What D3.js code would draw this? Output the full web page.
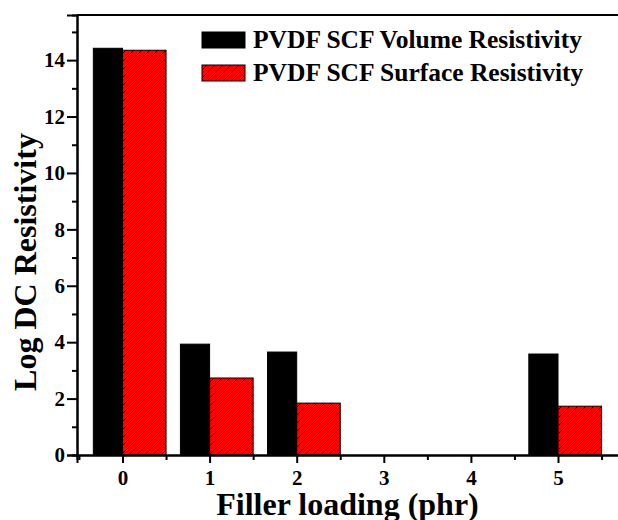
<!DOCTYPE html>
<html>
<head>
<meta charset="utf-8">
<script src="https://cdn.jsdelivr.net/npm/d3@7"></script>
<style>
  html, body { margin: 0; padding: 0; background: #fff; }
  svg { display: block; }
  svg text { font-family: "Liberation Serif", "Times New Roman", serif; font-weight: bold; fill: #000; }
  .tick text { font-size: 21px; }
</style>
</head>
<body>
<svg id="chart" width="618" height="520"></svg>
<script>
// Filler loading (phr) categories and log DC resistivity values
const categories = [0, 1, 2, 3, 4, 5];
const volumeResistivity = [14.42, 3.93, 3.65, null, null, 3.58];
const surfaceResistivity = [14.35, 2.73, 1.84, null, null, 1.73];
const yMajorTicks = [0, 2, 4, 6, 8, 10, 12, 14];
const yMinorTicks = [1, 3, 5, 7, 9, 11, 13, 15];
const xMinorTicks = [-0.5, 0.5, 1.5, 2.5, 3.5, 4.5, 5.5];
const seriesNames = ["PVDF SCF Volume Resistivity", "PVDF SCF Surface Resistivity"];

const svg = d3.select("#chart");
const plotLeft = 77, plotRight = 640, plotTop = 15, plotBottom = 455;

const x = d3.scaleLinear().domain([0, 5]).range([122.5, 558]);
const y = d3.scaleLinear().domain([0, 15.6]).range([plotBottom, plotTop]);
const step = x(1) - x(0);
const volW = step * 0.335;   // visible part of the volume bar
const surfW = step * 0.5;

// diagonal hatch for the surface series
const defs = svg.append("defs");
const pat = defs.append("pattern")
  .attr("id", "hatch")
  .attr("patternUnits", "userSpaceOnUse")
  .attr("width", 8).attr("height", 8);
pat.append("rect").attr("width", 8).attr("height", 8).attr("fill", "#ff0000");
pat.append("path")
  .attr("d", "M-2,2 L2,-2 M0,8 L8,0 M6,10 L10,6")
  .attr("stroke", "#000").attr("stroke-width", 1);

// bars
const volData = categories.map((c, i) => ({ c, v: volumeResistivity[i] })).filter(d => d.v != null);
const surfData = categories.map((c, i) => ({ c, v: surfaceResistivity[i] })).filter(d => d.v != null);

svg.append("g").selectAll("rect").data(volData).join("rect")
  .attr("x", d => x(d.c) - volW)
  .attr("y", d => y(d.v))
  .attr("width", volW)
  .attr("height", d => y(0) - y(d.v))
  .attr("fill", "#000").attr("stroke", "#000").attr("stroke-width", 1);

svg.append("g").selectAll("rect").data(surfData).join("rect")
  .attr("x", d => x(d.c))
  .attr("y", d => y(d.v))
  .attr("width", surfW)
  .attr("height", d => y(0) - y(d.v))
  .attr("fill", "url(#hatch)").attr("stroke", "#000").attr("stroke-width", 1);

// frame top edge
svg.append("line")
  .attr("x1", plotLeft).attr("x2", plotRight).attr("y1", plotTop).attr("y2", plotTop)
  .attr("stroke", "#000").attr("stroke-width", 2);

// y axis
const yMinor = svg.append("g").attr("transform", `translate(${plotLeft},0)`)
  .call(d3.axisLeft(y).tickValues(yMinorTicks).tickSize(5).tickFormat(""));
const yMajor = svg.append("g").attr("transform", `translate(${plotLeft},0)`)
  .call(d3.axisLeft(y).tickValues(yMajorTicks).tickSize(10).tickPadding(2).tickFormat(d3.format("d")));

// x axis
const xAxisScale = d3.scaleLinear().domain([x.invert(plotLeft), x.invert(plotRight)]).range([plotLeft, plotRight]);
const xMinor = svg.append("g").attr("transform", `translate(0,${plotBottom})`)
  .call(d3.axisBottom(xAxisScale).tickValues(xMinorTicks).tickSize(5).tickFormat(""));
const xMajor = svg.append("g").attr("transform", `translate(0,${plotBottom})`)
  .call(d3.axisBottom(xAxisScale).tickValues(categories).tickSize(8).tickPadding(7).tickFormat(d3.format("d")));

[yMinor, yMajor, xMinor, xMajor].forEach(g => {
  g.attr("font-family", null).attr("font-size", null);
  g.select(".domain").attr("stroke", "#000").attr("stroke-width", 2);
  g.selectAll(".tick line").attr("stroke", "#000").attr("stroke-width", 2);
  g.selectAll(".tick text").attr("fill", "#000");
});

// axis titles
svg.append("text")
  .attr("x", (plotLeft + 618) / 2).attr("y", 515)
  .attr("text-anchor", "middle")
  .style("font-size", "32px")
  .text("Filler loading (phr)");

svg.append("text")
  .attr("transform", "translate(36,262) rotate(-90)")
  .attr("text-anchor", "middle")
  .style("font-size", "32px")
  .text("Log DC Resistivity");

// legend
const legend = svg.append("g");
const legendFills = ["#000", "url(#hatch)"];
seriesNames.forEach((name, i) => {
  const yy = 32 + i * 33;
  legend.append("rect")
    .attr("x", 202).attr("y", yy).attr("width", 43).attr("height", 16)
    .attr("fill", legendFills[i]).attr("stroke", "#000").attr("stroke-width", 1);
  legend.append("text")
    .attr("x", 253).attr("y", yy + 16)
    .style("font-size", "25.5px")
    .text(name);
});
</script>
</body>
</html>
